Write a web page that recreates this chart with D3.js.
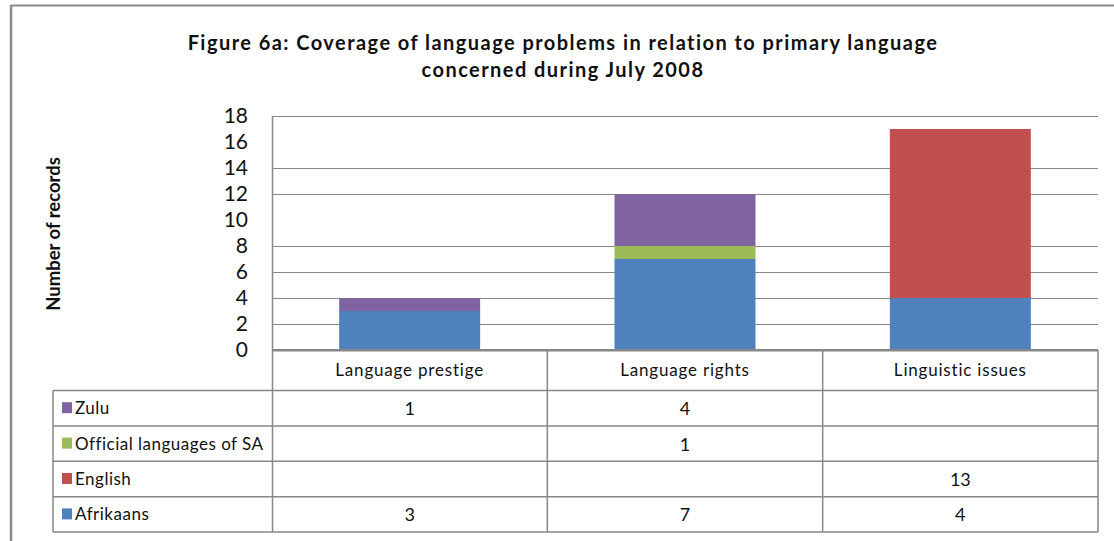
<!DOCTYPE html>
<html>
<head>
<meta charset="utf-8">
<script src="https://cdn.jsdelivr.net/npm/d3@7"></script>
<style>
  html, body { margin: 0; padding: 0; background: #fff; }
  svg { display: block; font-family: Lato, "Open Sans", sans-serif; }
</style>
</head>
<body>
<svg id="chart" width="1114" height="541"></svg>
<script>
// ---- data ----
const categories = ["Language prestige", "Language rights", "Linguistic issues"];
const seriesNames = ["Afrikaans", "English", "Official languages of SA", "Zulu"];
const afrikaans = [3, 7, 4];
const english = [null, null, 13];
const official = [null, 1, null];
const zulu = [1, 4, null];
const seriesColors = ["#4F81BD", "#C0504D", "#9BBB59", "#8064A2"];
const yTicks = [0, 2, 4, 6, 8, 10, 12, 14, 16, 18];
const gridTicks = [0, 2, 4, 6, 8, 12, 14, 18];
const titleLines = ["Figure 6a: Coverage of language problems in relation to primary language", "concerned during July 2008"];
const yTitle = "Number of records";

const seriesValues = [afrikaans, english, official, zulu];
const rows = categories.map((c, i) => {
  const r = { category: c };
  seriesNames.forEach((s, k) => { r[s] = seriesValues[k][i] || 0; });
  return r;
});

// ---- layout ----
const svg = d3.select("#chart");
const plotLeft = 272, plotRight = 1098, plotTop = 116, plotBottom = 350;
const tableLeft = 53, headerBottom = 390.5, rowH = 35.4;
const gridColor = "#878787";

// outer frame
svg.append("line").attr("x1", 11).attr("x2", 11).attr("y1", 5).attr("y2", 541)
  .attr("stroke", "#8a8a8a").attr("stroke-width", 2.5);
svg.append("line").attr("x1", 11).attr("x2", 1114).attr("y1", 5.5).attr("y2", 5.5)
  .attr("stroke", "#8a8a8a").attr("stroke-width", 2);

// title
svg.append("g").selectAll("text").data(titleLines).join("text")
  .attr("x", 563).attr("y", (d, i) => 50 + i * 27)
  .attr("text-anchor", "middle")
  .attr("font-weight", "bold").attr("font-size", 20).attr("letter-spacing", 1.45).attr("fill", "#111")
  .text(d => d);

const x = d3.scaleBand().domain(categories).range([plotLeft, plotRight]).paddingInner(0.488).paddingOuter(0.244);
const xCol = d3.scaleBand().domain(categories).range([plotLeft, plotRight]).padding(0);
const y = d3.scaleLinear().domain([0, 18]).range([plotBottom, plotTop]);

// gridlines
svg.append("g").selectAll("line").data(gridTicks).join("line")
  .attr("x1", plotLeft).attr("x2", plotRight)
  .attr("y1", d => Math.round(y(d)) + 0.5).attr("y2", d => Math.round(y(d)) + 0.5)
  .attr("stroke", gridColor).attr("stroke-width", d => d === 0 ? 2 : 1.2);

// bars
const stack = d3.stack().keys(seriesNames)(rows);
svg.append("g").selectAll("g").data(stack).join("g")
  .attr("fill", (d, i) => seriesColors[i])
  .selectAll("rect").data(d => d).join("rect")
  .attr("x", d => x(d.data.category))
  .attr("width", x.bandwidth())
  .attr("y", d => y(d[1]))
  .attr("height", d => y(d[0]) - y(d[1]));

// redraw baseline on top
svg.append("line").attr("x1", plotLeft).attr("x2", plotRight)
  .attr("y1", y(0)).attr("y2", y(0)).attr("stroke", gridColor).attr("stroke-width", 2);

// y axis labels
const yAxis = svg.append("g").attr("transform", `translate(${plotLeft - 24},0)`)
  .call(d3.axisLeft(y).tickValues(yTicks).tickSize(0).tickPadding(0));
yAxis.select(".domain").remove();
yAxis.selectAll("text").attr("font-family", "Lato, sans-serif").attr("font-size", 21).attr("fill", "#111");

// y title
svg.append("text").attr("transform", "translate(60,234) rotate(-90)")
  .attr("text-anchor", "middle").attr("font-weight", "bold").attr("font-size", 18.5).attr("fill", "#111")
  .text(yTitle);

// plot left border (continues into header row)
svg.append("line").attr("x1", plotLeft + 0.5).attr("x2", plotLeft + 0.5).attr("y1", plotTop).attr("y2", headerBottom)
  .attr("stroke", gridColor).attr("stroke-width", 1.5);

// ---- data table ----
const tbl = svg.append("g");
// header column separators
tbl.selectAll("line.hdr").data(categories.slice(1).concat(["__end"])).join("line")
  .attr("class", "hdr")
  .attr("x1", d => d === "__end" ? plotRight : xCol(d))
  .attr("x2", d => d === "__end" ? plotRight : xCol(d))
  .attr("y1", plotBottom).attr("y2", headerBottom)
  .attr("stroke", gridColor).attr("stroke-width", 1.5);
// header labels
tbl.selectAll("text.cat").data(categories).join("text")
  .attr("class", "cat")
  .attr("x", d => xCol(d) + xCol.bandwidth() / 2).attr("y", 376)
  .attr("text-anchor", "middle").attr("font-size", 17).attr("letter-spacing", 0.8).attr("fill", "#111")
  .text(d => d);

const tableRows = seriesNames.map((s, k) => ({ name: s, color: seriesColors[k], values: seriesValues[k] })).reverse();
const nRows = tableRows.length;
// horizontal lines
tbl.selectAll("line.h").data(d3.range(nRows + 1)).join("line")
  .attr("class", "h")
  .attr("x1", tableLeft).attr("x2", plotRight)
  .attr("y1", i => headerBottom + i * rowH).attr("y2", i => headerBottom + i * rowH)
  .attr("stroke", gridColor).attr("stroke-width", 1.5);
// vertical lines in body
const vx = [tableLeft, plotLeft + 0.5].concat(categories.slice(1).map(c => xCol(c))).concat([plotRight]);
tbl.selectAll("line.v").data(vx).join("line")
  .attr("class", "v")
  .attr("x1", d => d).attr("x2", d => d)
  .attr("y1", headerBottom).attr("y2", headerBottom + nRows * rowH)
  .attr("stroke", gridColor).attr("stroke-width", 1.5);

const rowG = tbl.selectAll("g.row").data(tableRows).join("g")
  .attr("class", "row")
  .attr("transform", (d, i) => `translate(0,${headerBottom + i * rowH + rowH / 2})`);
rowG.append("rect").attr("x", 62).attr("y", -6).attr("width", 10).attr("height", 11)
  .attr("fill", d => d.color);
rowG.append("text").attr("x", 75).attr("y", 6)
  .attr("font-size", 17).attr("letter-spacing", 0.5).attr("fill", "#111").text(d => d.name);
rowG.selectAll("text.val").data(d => d.values.map((v, i) => ({ v, c: categories[i] }))).join("text")
  .attr("class", "val")
  .attr("x", d => xCol(d.c) + xCol.bandwidth() / 2).attr("y", 7)
  .attr("text-anchor", "middle").attr("font-size", 18).attr("fill", "#111")
  .text(d => d.v == null ? "" : d.v);
</script>
</body>
</html>
